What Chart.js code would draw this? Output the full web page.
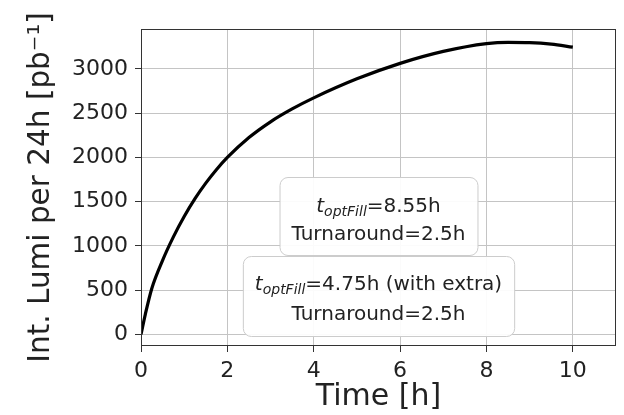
<!DOCTYPE html>
<html>
<head>
<meta charset="utf-8">
<script src="https://cdn.jsdelivr.net/npm/chart.js@4.4.0/dist/chart.umd.min.js"></script>
<style>
  html, body { margin: 0; padding: 0; background: #fff; }
  canvas { display: block; }
</style>
</head>
<body>
<canvas id="lumiChart" width="624" height="415"></canvas>
<script>
/* values */
const fillTime   = [0, 0.1, 0.25, 0.5, 0.75, 1, 1.25, 1.5, 1.75, 2, 2.5, 3, 3.5, 4, 5, 6, 7, 8, 8.5, 9, 9.5, 10];
const lumiPer24h = [0, 228, 520, 837, 1102, 1332, 1534, 1709, 1863, 1999, 2224, 2402, 2547, 2672, 2887, 3062, 3197, 3285, 3300, 3297, 3280, 3245];
const xTicks = [0, 2, 4, 6, 8, 10];
const yTicks = [0, 500, 1000, 1500, 2000, 2500, 3000];
const noteFill = ['=8.55h', '=4.75h (with extra)'];
const noteTurn = ['Turnaround=2.5h', 'Turnaround=2.5h'];

const FONT = '"DejaVu Sans", sans-serif';
const TEXT = '#222';

/* ── frame round the plot area (all four spines) ── */
const framePlugin = {
    id: 'frame',
    afterDatasetsDraw(chart) {
        const { ctx, chartArea: a } = chart;
        ctx.save();
        ctx.strokeStyle = '#333';
        ctx.lineWidth = 1;
        ctx.strokeRect(a.left + 0.5, a.top + 0.5, a.right - a.left - 1, a.bottom - a.top - 1);
        ctx.restore();
    }
};

/* ── the two rounded text boxes ── */
const notesPlugin = {
    id: 'notes',
    afterDraw(chart) {
        const { ctx, chartArea: a, scales: { x } } = chart;
        const cx = x.getPixelForValue(5.5);
        const boxes = [
            { top: a.top + 148, h: 78, l1: 28, l2: 56 },
            { top: a.top + 227, h: 80, l1: 27, l2: 57 },
        ];
        const big = 20, small = 14;
        boxes.forEach((b, i) => {
            ctx.save();
            ctx.font = `italic ${big}px ${FONT}`;
            const wT = ctx.measureText('t').width;
            ctx.font = `italic ${small}px ${FONT}`;
            const wSub = ctx.measureText('optFill').width;
            ctx.font = `${big}px ${FONT}`;
            const wRest = ctx.measureText(noteFill[i]).width;
            const wTurn = ctx.measureText(noteTurn[i]).width;
            const w1 = wT + wSub + wRest;
            const bw = Math.max(w1, wTurn) + 24;
            const bx = cx - bw / 2;

            ctx.beginPath();
            ctx.roundRect(bx + 0.5, b.top + 0.5, bw, b.h, 8);
            ctx.fillStyle = 'rgba(255,255,255,0.92)';
            ctx.fill();
            ctx.strokeStyle = '#cccccc';
            ctx.lineWidth = 1;
            ctx.stroke();

            ctx.fillStyle = TEXT;
            ctx.textBaseline = 'alphabetic';
            ctx.textAlign = 'left';
            const y1 = b.top + b.l1 + 7, y2 = b.top + b.l2 + 7;
            let px = cx - w1 / 2;
            ctx.font = `italic ${big}px ${FONT}`;
            ctx.fillText('t', px, y1);
            px += wT;
            ctx.font = `italic ${small}px ${FONT}`;
            ctx.fillText('optFill', px, y1 + 4);
            px += wSub;
            ctx.font = `${big}px ${FONT}`;
            ctx.fillText(noteFill[i], px, y1);
            ctx.textAlign = 'center';
            ctx.fillText(noteTurn[i], cx, y2);
            ctx.restore();
        });
    }
};

new Chart(document.getElementById('lumiChart').getContext('2d'), {
    type: 'line',
    data: {
        datasets: [{
            data: fillTime.map((t, i) => ({ x: t, y: lumiPer24h[i] })),
            borderColor: '#000',
            borderWidth: 3.2,
            pointRadius: 0,
            cubicInterpolationMode: 'monotone',
            fill: false,
        }]
    },
    options: {
        responsive: false,
        animation: false,
        devicePixelRatio: 1,
        layout: { padding: { top: 29, right: 8, left: 0, bottom: 0 } },
        plugins: { legend: { display: false }, tooltip: { enabled: false } },
        scales: {
            x: {
                type: 'linear', min: 0, max: 11,
                afterBuildTicks: s => { s.ticks = xTicks.map(v => ({ value: v })); },
                afterFit: s => { s.height = 69; },
                grid: { color: '#c4c4c4', lineWidth: 1, tickColor: '#333', tickLength: 6 },
                border: { display: false },
                ticks: { color: TEXT, font: { family: FONT, size: 22 }, padding: 6, maxRotation: 0, callback: v => String(v) },
                title: { display: true, text: 'Time [h]', color: TEXT, font: { family: FONT, size: 30 }, padding: { top: 0, bottom: 0 } },
            },
            y: {
                type: 'linear', min: -130, max: 3450,
                afterBuildTicks: s => { s.ticks = yTicks.map(v => ({ value: v })); },
                afterFit: s => { s.width = 141; },
                grid: { color: '#c4c4c4', lineWidth: 1, tickColor: '#333', tickLength: 6 },
                border: { display: false },
                ticks: { color: TEXT, font: { family: FONT, size: 22 }, padding: 7, callback: v => String(v) },
                title: { display: true, text: 'Int. Lumi per 24h [pb⁻¹]', color: TEXT, font: { family: FONT, size: 29.5 }, padding: { top: 24, bottom: 0 } },
            }
        }
    },
    plugins: [framePlugin, notesPlugin]
});
</script>
</body>
</html>
